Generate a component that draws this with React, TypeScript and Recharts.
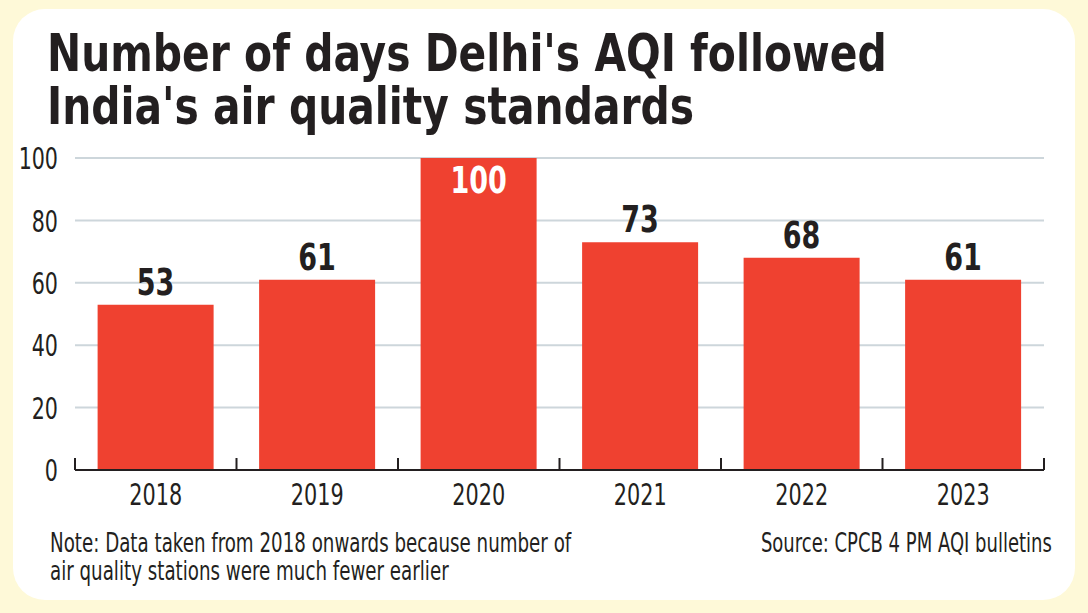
import { BarChart, Bar, XAxis, YAxis, CartesianGrid, LabelList } from "recharts";

const years = ["2018", "2019", "2020", "2021", "2022", "2023"];
const days = [53, 61, 100, 73, 68, 61];
const yTicks = [0, 20, 40, 60, 80, 100];

const titleLines = ["Number of days Delhi's AQI followed", "India's air quality standards"];
const noteLines = [
  "Note: Data taken from 2018 onwards because number of",
  "air quality stations were much fewer earlier",
];
const sourceText = "Source: CPCB 4 PM AQI bulletins";

const data = years.map((year, i) => ({ year, days: days[i] }));

const FONT = '"DejaVu Sans Condensed", "Liberation Sans Narrow", sans-serif';
const INK = "#231f20";
const RED = "#ef4130";
const TICK_GAP = 13;

const YearTick = (props: any) => {
  const { x, y, payload, index, visibleTicksCount } = props;
  const half = payload.offset || 80;
  const axisY = y - TICK_GAP;
  const last = index === visibleTicksCount - 1;
  return (
    <g>
      <line x1={x - half} x2={x - half} y1={axisY - 12} y2={axisY} stroke={INK} strokeWidth={2} />
      {last && <line x1={x + half} x2={x + half} y1={axisY - 12} y2={axisY} stroke={INK} strokeWidth={2} />}
      <text transform={`translate(${x},${y + 22}) scale(0.77,1)`} textAnchor="middle" fill={INK} fontSize={30} fontFamily={FONT}>
        {payload.value}
      </text>
    </g>
  );
};

const CountTick = (props: any) => {
  const { x, y, payload } = props;
  return (
    <text transform={`translate(${x},${y}) scale(0.74,1)`} dy="0.36em" textAnchor="end" fill={INK} fontSize={31} fontFamily={FONT}>
      {payload.value}
    </text>
  );
};

const ValueLabel = (props: any) => {
  const { x, y, width, value } = props;
  const inside = value >= 100;
  const ty = inside ? y + 35 : y - 10;
  return (
    <text
      transform={`translate(${x + width / 2},${ty}) scale(0.79,1)`}
      textAnchor="middle"
      fill={inside ? "#ffffff" : INK}
      fontSize={38}
      fontWeight="bold"
      fontFamily={FONT}
    >
      {value}
    </text>
  );
};

export default function App() {
  return (
    <div style={{ position: "absolute", left: 0, top: 0, width: 1088, height: 613, background: "#fef9d8", fontFamily: FONT, color: INK }}>
      <div style={{ position: "absolute", left: 13, top: 9, width: 1062, height: 591, background: "#ffffff", borderRadius: 32 }} />
      <div
        style={{
          position: "absolute",
          left: 47,
          top: 27,
          fontSize: 52,
          lineHeight: "53px",
          fontWeight: "bold",
          whiteSpace: "nowrap",
          transform: "scaleX(0.873)",
          transformOrigin: "left top",
        }}
      >
        {titleLines.map((t) => (
          <div key={t}>{t}</div>
        ))}
      </div>
      <div style={{ position: "absolute", left: 0, top: 0 }}>
        <BarChart width={1088} height={613} data={data} margin={{ top: 158, right: 44, bottom: 103, left: 15 }} barCategoryGap="14%">
          <CartesianGrid vertical={false} stroke="#cdd6db" strokeWidth={2} />
          <YAxis
            width={60}
            domain={[0, 100]}
            ticks={yTicks}
            axisLine={false}
            tickLine={false}
            tickSize={0}
            tickMargin={17}
            tick={<CountTick />}
          />
          <XAxis
            dataKey="year"
            height={40}
            axisLine={{ stroke: INK, strokeWidth: 2 }}
            tickLine={false}
            tickSize={0}
            tickMargin={TICK_GAP}
            tick={<YearTick />}
            interval={0}
          />
          <Bar dataKey="days" fill={RED} isAnimationActive={false}>
            <LabelList dataKey="days" content={<ValueLabel />} />
          </Bar>
        </BarChart>
      </div>
      <div
        style={{
          position: "absolute",
          left: 50,
          top: 529,
          fontSize: 26,
          lineHeight: "28px",
          whiteSpace: "nowrap",
          transform: "scaleX(0.78)",
          transformOrigin: "left top",
        }}
      >
        {noteLines.map((t) => (
          <div key={t}>{t}</div>
        ))}
      </div>
      <div
        style={{
          position: "absolute",
          right: 36,
          top: 529,
          fontSize: 26,
          lineHeight: "28px",
          whiteSpace: "nowrap",
          transform: "scaleX(0.77)",
          transformOrigin: "right top",
        }}
      >
        {sourceText}
      </div>
    </div>
  );
}
